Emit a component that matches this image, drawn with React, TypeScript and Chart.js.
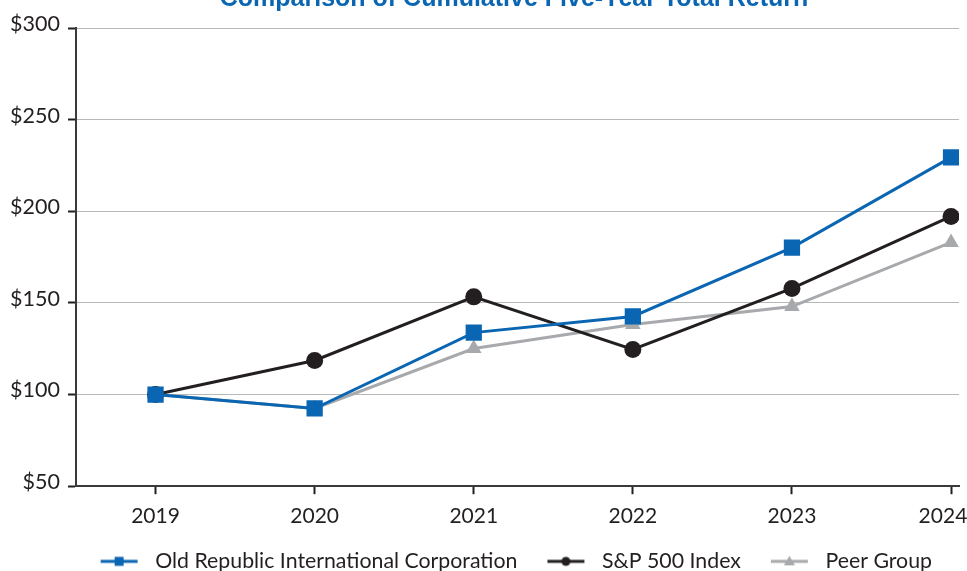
import React, { useEffect, useRef } from "react";
import { Chart, registerables } from "chart.js";

Chart.register(...registerables);

const years = [2019, 2020, 2021, 2022, 2023, 2024];
const oldRepublic = [100, 92.4, 133.8, 142.6, 180.2, 229.4];
const sp500 = [100, 118.6, 153.3, 124.6, 157.9, 197.2];
const peerGroup = [100, 92.4, 125.1, 138.2, 148.0, 183.0];
const yTicks = [50, 100, 150, 200, 250, 300];
const titleText = "Comparison of Cumulative Five-Year Total Return";

const BLUE = "#0a66b2";
const BLACK = "#231f20";
const GRAY = "#a7a9ac";
const FONT = "Lato";

const LEFT_GAP = 3;
const IMG_W = 47;

function legendImage(color: string, kind: string): HTMLCanvasElement {
  const c = document.createElement("canvas");
  c.width = IMG_W;
  c.height = 16;
  const ctx = c.getContext("2d")!;
  ctx.strokeStyle = color;
  ctx.fillStyle = color;
  ctx.lineWidth = 3;
  const x0 = LEFT_GAP;
  const x1 = LEFT_GAP + 37;
  const cx = (x0 + x1) / 2;
  ctx.beginPath();
  ctx.moveTo(x0, 8);
  ctx.lineTo(x1, 8);
  ctx.stroke();
  ctx.beginPath();
  if (kind === "rect") {
    ctx.rect(cx - 4.5, 3.5, 9, 9);
  } else if (kind === "circle") {
    ctx.arc(cx, 8, 4.5, 0, Math.PI * 2);
  } else {
    ctx.moveTo(cx, 2.5);
    ctx.lineTo(cx + 5.5, 12);
    ctx.lineTo(cx - 5.5, 12);
    ctx.closePath();
  }
  ctx.fill();
  return c;
}

const titlePlugin = {
  id: "clippedTitle",
  afterDraw(chart: any) {
    const ctx = chart.ctx;
    ctx.save();
    ctx.font = `bold 25px "Liberation Sans", Arial, sans-serif`;
    ctx.fillStyle = BLUE;
    ctx.textAlign = "center";
    ctx.textBaseline = "alphabetic";
    ctx.fillText(titleText, 514, 6);
    ctx.restore();
  },
};

export default function App() {
  const ref = useRef<HTMLCanvasElement | null>(null);

  useEffect(() => {
    if (!ref.current) return;
    const mk = (vals: number[]) => vals.map((v, i) => ({ x: years[i], y: v }));
    const images = [
      legendImage(BLUE, "rect"),
      legendImage(BLACK, "circle"),
      legendImage(GRAY, "triangle"),
    ];
    const lastYear = years[years.length - 1];
    const chart = new Chart(ref.current, {
      type: "line",
      data: {
        datasets: [
          {
            label: "Old Republic International Corporation",
            data: mk(oldRepublic),
            borderColor: BLUE,
            backgroundColor: BLUE,
            borderWidth: 3,
            pointStyle: "rect",
            pointRadius: 11.5,
            pointBorderWidth: 0,
            tension: 0,
          },
          {
            label: "S&P 500 Index",
            data: mk(sp500),
            borderColor: BLACK,
            backgroundColor: BLACK,
            borderWidth: 3,
            pointStyle: "circle",
            pointRadius: 8.5,
            pointBorderWidth: 0,
            tension: 0,
          },
          {
            label: "Peer Group",
            data: mk(peerGroup),
            borderColor: GRAY,
            backgroundColor: GRAY,
            borderWidth: 3,
            pointStyle: "triangle",
            pointRadius: 9,
            pointBorderWidth: 0,
            tension: 0,
          },
        ],
      },
      options: {
        responsive: false,
        animation: false,
        devicePixelRatio: 1,
        layout: { autoPadding: false, padding: { left: 0, right: 8, top: 28, bottom: 0 } },
        scales: {
          x: {
            type: "linear",
            min: 2018.5,
            max: 2024.05,
            afterBuildTicks: (scale: any) => {
              scale.ticks = years.map((v) => ({ value: v }));
            },
            afterFit: (scale: any) => {
              scale.height = 37.5;
              scale.paddingLeft = 0;
              scale.paddingRight = 0;
            },
            grid: {
              drawOnChartArea: false,
              drawTicks: true,
              tickLength: 8,
              tickColor: BLACK,
              tickWidth: 2,
            },
            border: { color: "#3a3a3a", width: 2 },
            ticks: {
              padding: 9,
              color: BLACK,
              font: { family: FONT, size: 21 },
              callback: (v: any) => (v === lastYear ? `${v}   ` : String(v)),
              maxRotation: 0,
            },
          },
          y: {
            min: 50,
            max: 300,
            afterBuildTicks: (scale: any) => {
              scale.ticks = yTicks.map((v) => ({ value: v }));
            },
            afterFit: (scale: any) => {
              scale.width = 76;
              scale.paddingTop = 0;
              scale.paddingBottom = 0;
            },
            grid: {
              color: "#b8b8b8",
              lineWidth: 1,
              drawTicks: true,
              tickLength: 8,
              tickColor: BLACK,
              tickWidth: 2,
            },
            border: { color: "#3a3a3a", width: 2 },
            ticks: {
              padding: 8,
              color: BLACK,
              font: { family: FONT, size: 21.5, lineHeight: "8px" },
              callback: (v: any) => [`$${v}`, ""],
            },
          },
        },
        plugins: {
          title: { display: false },
          tooltip: { enabled: false },
          legend: {
            position: "bottom",
            align: "end",
            fullSize: true,
            labels: {
              usePointStyle: true,
              pointStyleWidth: IMG_W,
              boxHeight: 16,
              padding: 27,
              color: BLACK,
              font: { family: FONT, size: 21.3 },
              generateLabels: (chart: any) =>
                chart.data.datasets.map((ds: any, i: number) => ({
                  text: ds.label,
                  pointStyle: images[i],
                  fillStyle: ds.borderColor,
                  strokeStyle: ds.borderColor,
                  lineWidth: 0,
                  hidden: false,
                  datasetIndex: i,
                  fontColor: BLACK,
                })),
            },
          },
        },
      },
      plugins: [titlePlugin],
    } as any);
    return () => chart.destroy();
  }, []);

  return (
    <div style={{ position: "fixed", left: 0, top: 0, width: 967, height: 571, overflow: "hidden", background: "#fff" }}>
      <canvas ref={ref} width={967} height={582} style={{ display: "block" }} />
    </div>
  );
}
